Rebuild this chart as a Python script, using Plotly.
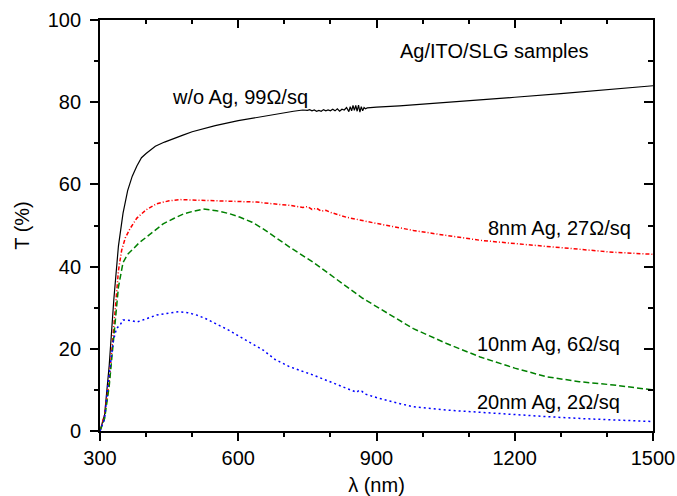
import plotly.graph_objects as go

# ---- data ----
wl_noAg = [300, 310, 320, 330, 340, 350, 360, 370, 380, 390, 400, 420, 440, 460, 480, 500,
           550, 600, 650, 700, 720, 740, 750, 755, 760, 765, 770, 775, 780, 785, 790, 795, 800,
           805, 810, 815, 820, 825, 830, 835, 840, 843, 846, 849, 852, 855, 858, 861, 864, 867,
           870, 873, 876, 880, 900, 950, 1000, 1100, 1200, 1300, 1400, 1500]
T_noAg = [0, 4, 16, 32, 45, 53, 58.5, 62, 64.5, 66.5, 67.5, 69.3, 70.3, 71.2, 72, 72.8,
          74.3, 75.5, 76.5, 77.4, 77.8, 78.1, 78.0, 78.2, 77.9, 78.1, 77.8, 78.0, 77.8, 78.2, 77.9, 78.1, 77.9,
          78.3, 77.9, 78.4, 77.8, 78.3, 78.1, 78.7, 77.7, 78.9, 77.9, 79.2, 78.0, 79.2, 77.8, 79.3, 77.6, 78.9,
          77.9, 78.7, 78.4, 78.6, 78.8, 79.1, 79.5, 80.3, 81.2, 82.1, 83.0, 84.0]

wl_8nm = [300, 310, 320, 330, 336, 340, 347, 355, 365, 380, 400, 423, 450, 474, 500, 550, 600,
          640, 690, 712, 740, 750, 760, 770, 780, 790, 800, 835, 900, 980, 1050, 1125, 1200,
          1270, 1340, 1413, 1500]
T_8nm = [0, 4, 12, 26, 34, 39, 44, 47, 49.2, 51.8, 53.8, 55.3, 56, 56.3, 56.2, 56, 55.8,
         55.7, 55.1, 54.9, 54.4, 54.6, 53.9, 54.2, 53.5, 53.7, 53.2, 52, 50.5, 48.8, 47.6, 46.4, 45.6,
         44.9, 44.2, 43.5, 43]

wl_10nm = [300, 310, 320, 329, 340, 350, 360, 372, 385, 401, 420, 437, 460, 481, 500, 524, 553,
           580, 604, 630, 654, 680, 712, 762, 800, 835, 870, 907, 945, 980, 1052, 1125, 1200,
           1269, 1340, 1414, 1500]
T_10nm = [0, 3, 11, 22, 35, 41, 43, 44.3, 45.8, 47.2, 48.9, 50.4, 51.7, 52.8, 53.4, 54, 53.6,
          52.9, 52, 50.8, 49.2, 47.2, 44.7, 41.1, 38, 35, 32.3, 29.8, 27.2, 24.9, 21.3, 18, 15.3,
          13.2, 12, 11.2, 10]

wl_20nm = [300, 310, 318, 329, 336, 343, 350, 358, 370, 380, 400, 423, 450, 470, 490, 510, 530,
           553, 580, 604, 630, 654, 680, 712, 763, 800, 830, 857, 862, 868, 875, 907, 945, 980,
           1050, 1125, 1200, 1269, 1350, 1420, 1500]
T_20nm = [0, 3, 12, 22, 25, 25.7, 27, 27, 26.8, 26.5, 27.3, 28.2, 28.7, 29, 28.8, 28.2, 27.3,
          26.1, 24.5, 22.9, 21.3, 19.7, 17.4, 15.6, 13.6, 12, 10.6, 9.4, 9.9, 9.7, 9.0, 7.9, 6.8, 5.9,
          5.1, 4.5, 4.0, 3.5, 3.0, 2.6, 2.3]

labels = ["w/o Ag, 99Ω/sq", "8nm Ag, 27Ω/sq", "10nm Ag, 6Ω/sq", "20nm Ag, 2Ω/sq"]
title_text = "Ag/ITO/SLG samples"

FONT = "Liberation Sans, Arial, sans-serif"

fig = go.Figure()
fig.add_trace(go.Scatter(x=wl_noAg, y=T_noAg, mode="lines",
                         line=dict(color="black", width=1.2)))
fig.add_trace(go.Scatter(x=wl_8nm, y=T_8nm, mode="lines",
                         line=dict(color="#ff0000", width=1.5, dash="4px,2px,1px,2px")))
fig.add_trace(go.Scatter(x=wl_10nm, y=T_10nm, mode="lines",
                         line=dict(color="#008000", width=1.5, dash="6px,3px")))
fig.add_trace(go.Scatter(x=wl_20nm, y=T_20nm, mode="lines",
                         line=dict(color="#0000ff", width=1.5, dash="2px,3px")))
# invisible trace so that the top/right (inside-tick) frame axes are drawn
fig.add_trace(go.Scatter(x=wl_noAg, y=T_noAg, mode="lines", xaxis="x2", yaxis="y2",
                         opacity=0, hoverinfo="skip", line=dict(width=0)))

ann = [
    dict(x=1155, y=92.5, text=title_text, xanchor="center"),
    dict(x=452, y=81.3, text=labels[0], xanchor="left"),
    dict(x=1457, y=49.3, text=labels[1], xanchor="right"),
    dict(x=1433, y=21.1, text=labels[2], xanchor="right"),
    dict(x=1433, y=7.0, text=labels[3], xanchor="right"),
]
for a in ann:
    fig.add_annotation(x=a["x"], y=a["y"], text=a["text"], xanchor=a["xanchor"],
                       yanchor="middle", showarrow=False,
                       font=dict(family=FONT, size=20, color="black"))

axis_common = dict(showgrid=False, zeroline=False, showline=True, linecolor="black",
                   linewidth=1.8, tickcolor="black", tickwidth=1.5, automargin=False)

fig.update_layout(
    width=677, height=496,
    margin=dict(l=100, r=24, t=20, b=65),
    paper_bgcolor="white", plot_bgcolor="white",
    showlegend=False,
    font=dict(family=FONT, size=20, color="black"),
    xaxis=dict(range=[300, 1500], tick0=300, dtick=300, ticks="outside", ticklen=8,
               minor=dict(dtick=100, ticks="outside", ticklen=4, tickcolor="black", tickwidth=1.5),
               title=dict(text="λ (nm)", standoff=12, font=dict(size=20)),
               tickfont=dict(size=20), **axis_common),
    yaxis=dict(range=[0, 100], tick0=0, dtick=20, ticks="outside", ticklen=8,
               ticklabelstandoff=5,
               minor=dict(dtick=10, ticks="outside", ticklen=4, tickcolor="black", tickwidth=1.5),
               title=dict(text="T (%)", standoff=13, font=dict(size=20)),
               tickfont=dict(size=20), **axis_common),
    xaxis2=dict(range=[300, 1500], overlaying="x", side="top", anchor="y", tick0=300, dtick=300,
                ticks="inside", ticklen=8, showticklabels=False,
                minor=dict(dtick=100, ticks="inside", ticklen=4, tickcolor="black", tickwidth=1.5),
                **axis_common),
    yaxis2=dict(range=[0, 100], overlaying="y", side="right", anchor="x", tick0=0, dtick=20,
                ticks="inside", ticklen=9, showticklabels=False,
                minor=dict(dtick=10, ticks="inside", ticklen=5, tickcolor="black", tickwidth=1.5),
                **axis_common),
)

# remove the page's default body margin (and scrollbars) so the figure fills the window exactly
fig.write_html("out.html",
               config={"displayModeBar": False},
               post_script="document.body.style.margin='0';"
                           "document.documentElement.style.overflow='hidden';"
                           "document.body.style.overflow='hidden';")
